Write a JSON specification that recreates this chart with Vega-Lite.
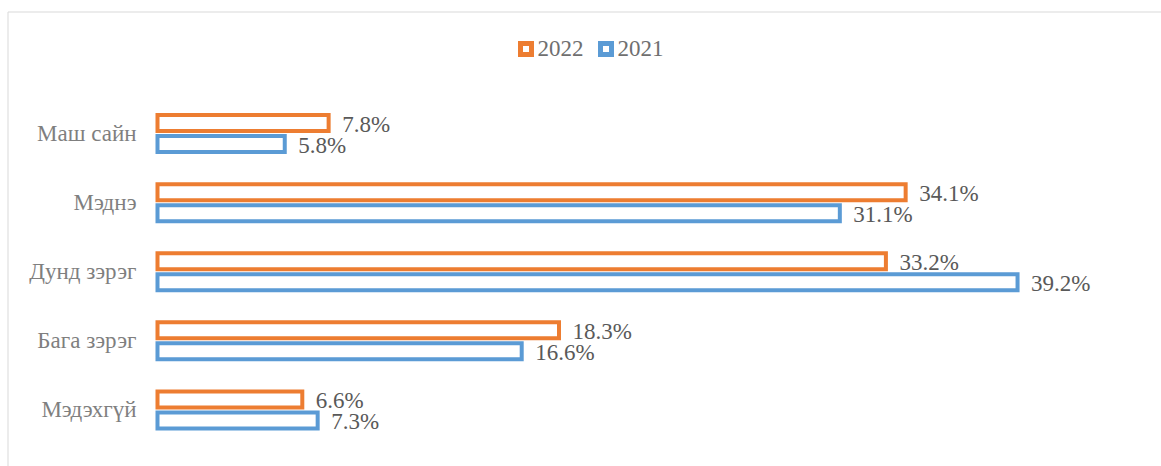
{
  "$schema": "https://vega.github.io/schema/vega-lite/v6.json",
  "width": 1160,
  "height": 470,
  "autosize": {"type": "none"},
  "padding": {"left": 7.5, "top": 11.5, "right": 0, "bottom": 0},
  "background": "white",
  "config": {"view": {"stroke": "#d9d9d9", "strokeWidth": 1}, "font": "Liberation Serif"},
  "data": {
    "values": [
      {"category": "Маш сайн", "year": "2022", "value": 0.078},
      {"category": "Маш сайн", "year": "2021", "value": 0.058},
      {"category": "Мэднэ", "year": "2022", "value": 0.341},
      {"category": "Мэднэ", "year": "2021", "value": 0.311},
      {"category": "Дунд зэрэг", "year": "2022", "value": 0.332},
      {"category": "Дунд зэрэг", "year": "2021", "value": 0.392},
      {"category": "Бага зэрэг", "year": "2022", "value": 0.183},
      {"category": "Бага зэрэг", "year": "2021", "value": 0.166},
      {"category": "Мэдэхгүй", "year": "2022", "value": 0.066},
      {"category": "Мэдэхгүй", "year": "2021", "value": 0.073}
    ]
  },
  "encoding": {
    "y": {
      "field": "category",
      "type": "nominal",
      "sort": ["Маш сайн", "Мэднэ", "Дунд зэрэг", "Бага зэрэг", "Мэдэхгүй"],
      "scale": {"range": [87.5, 433], "paddingInner": 0.4645, "paddingOuter": 0.232},
      "axis": {
        "title": null,
        "ticks": false,
        "domain": false,
        "grid": false,
        "labelPadding": 1,
        "offset": -129.5,
        "labelFont": "Liberation Serif",
        "labelFontSize": 23,
        "labelColor": "#7f7f7f"
      }
    },
    "yOffset": {
      "field": "year",
      "type": "nominal",
      "sort": ["2022", "2021"],
      "scale": {"paddingInner": 0.238}
    },
    "x": {
      "field": "value",
      "type": "quantitative",
      "scale": {"domain": [0, 0.4], "range": [150, 1027.6]},
      "axis": null
    }
  },
  "layer": [
    {
      "mark": {"type": "bar", "fill": "white", "strokeWidth": 4},
      "encoding": {
        "stroke": {
          "field": "year",
          "type": "nominal",
          "scale": {"domain": ["2022", "2021"], "range": ["#ED7D31", "#5B9BD5"]},
          "legend": {
            "title": null,
            "orient": "none",
            "legendX": 507,
            "legendY": 26,
            "direction": "horizontal",
            "symbolType": "square",
            "symbolSize": 121,
            "symbolStrokeWidth": 5,
            "symbolFillColor": "white",
            "labelFont": "Liberation Serif",
            "labelFontSize": 23,
            "labelColor": "#6f6f6f",
            "columnPadding": 7,
            "labelOffset": 0,
            "padding": 0
          }
        }
      }
    },
    {
      "mark": {
        "type": "text",
        "align": "left",
        "baseline": "middle",
        "dx": 13.5,
        "dy": 1.5,
        "fontSize": 23,
        "font": "Liberation Serif",
        "color": "#595959"
      },
      "encoding": {
        "text": {"field": "value", "type": "quantitative", "format": ".1%"}
      }
    }
  ]
}
